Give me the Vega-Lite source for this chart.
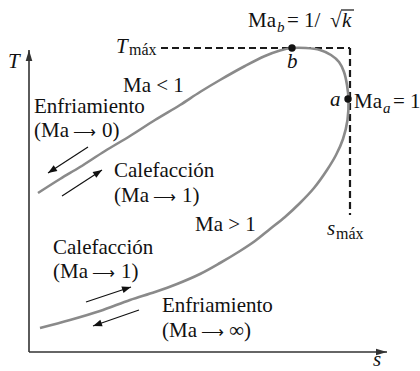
{
  "$schema": "https://vega.github.io/schema/vega-lite/v6.json",
  "width": 420,
  "height": 371,
  "autosize": "none",
  "padding": 0,
  "background": "white",
  "config": {"view": {"stroke": null}},
  "datasets": {
    "curve": [
      {"order": 1, "s": 38, "T": 178},
      {"order": 2, "s": 60, "T": 192},
      {"order": 3, "s": 80, "T": 204},
      {"order": 4, "s": 105, "T": 220},
      {"order": 5, "s": 130, "T": 235},
      {"order": 6, "s": 155, "T": 251},
      {"order": 7, "s": 180, "T": 266},
      {"order": 8, "s": 200, "T": 279},
      {"order": 9, "s": 220, "T": 291},
      {"order": 10, "s": 245, "T": 305},
      {"order": 11, "s": 265, "T": 315},
      {"order": 12, "s": 280, "T": 320.5},
      {"order": 13, "s": 292, "T": 323},
      {"order": 14, "s": 306, "T": 323},
      {"order": 15, "s": 320, "T": 321},
      {"order": 16, "s": 331, "T": 316},
      {"order": 17, "s": 339, "T": 309},
      {"order": 18, "s": 344, "T": 299},
      {"order": 19, "s": 347, "T": 286},
      {"order": 20, "s": 348.5, "T": 271},
      {"order": 21, "s": 347.5, "T": 251},
      {"order": 22, "s": 343, "T": 232},
      {"order": 23, "s": 336, "T": 216},
      {"order": 24, "s": 327, "T": 201},
      {"order": 25, "s": 314, "T": 183},
      {"order": 26, "s": 300, "T": 168},
      {"order": 27, "s": 285, "T": 154},
      {"order": 28, "s": 270, "T": 142},
      {"order": 29, "s": 255, "T": 130},
      {"order": 30, "s": 240, "T": 120},
      {"order": 31, "s": 220, "T": 108},
      {"order": 32, "s": 200, "T": 97},
      {"order": 33, "s": 177, "T": 87},
      {"order": 34, "s": 155, "T": 79},
      {"order": 35, "s": 130, "T": 71},
      {"order": 36, "s": 100, "T": 60},
      {"order": 37, "s": 70, "T": 51},
      {"order": 38, "s": 40, "T": 43}
    ],
    "guides": [
      {"s": 161, "T": 323, "s2": 350, "T2": 323},
      {"s": 350, "T": 323, "s2": 350, "T2": 156}
    ],
    "axes": [
      {"s": 29, "T": 19, "s2": 29, "T2": 321},
      {"s": 29, "T": 19, "s2": 387, "T2": 19}
    ],
    "flows": [
      {"s": 88, "T": 224, "s2": 48, "T2": 198},
      {"s": 62, "T": 175, "s2": 102, "T2": 201},
      {"s": 86, "T": 69, "s2": 131, "T2": 84},
      {"s": 139, "T": 61, "s2": 93, "T2": 45}
    ],
    "states": [
      {"name": "b", "s": 292, "T": 323},
      {"name": "a", "s": 348, "T": 272}
    ],
    "roman": [
      {"label": "Ma", "s": 248, "T": 344},
      {"label": "= 1/", "s": 287, "T": 344},
      {"label": "√", "s": 330, "T": 344},
      {"label": "Ma < 1", "s": 123, "T": 279},
      {"label": "Enfriamiento", "s": 34, "T": 258},
      {"label": "(Ma", "s": 34, "T": 234},
      {"label": "0)", "s": 102, "T": 234},
      {"label": "Calefacción", "s": 114, "T": 194},
      {"label": "(Ma", "s": 114, "T": 169},
      {"label": "1)", "s": 182, "T": 169},
      {"label": "Ma > 1", "s": 195, "T": 140},
      {"label": "Calefacción", "s": 53, "T": 117},
      {"label": "(Ma", "s": 53, "T": 93},
      {"label": "1)", "s": 121, "T": 93},
      {"label": "Enfriamiento", "s": 162, "T": 59},
      {"label": "(Ma", "s": 162, "T": 34},
      {"label": "∞)", "s": 229, "T": 34},
      {"label": "Ma", "s": 354, "T": 263},
      {"label": "= 1", "s": 393, "T": 263}
    ],
    "arrowsText": [
      {"label": "⟶", "s": 73, "T": 234},
      {"label": "⟶", "s": 153, "T": 169},
      {"label": "⟶", "s": 92, "T": 93},
      {"label": "⟶", "s": 201, "T": 34}
    ],
    "italic": [
      {"label": "T", "s": 8, "T": 303},
      {"label": "s", "s": 373, "T": 5},
      {"label": "T", "s": 116, "T": 318},
      {"label": "b", "s": 287, "T": 303},
      {"label": "a", "s": 330, "T": 265},
      {"label": "s", "s": 327, "T": 136},
      {"label": "k", "s": 342, "T": 344}
    ],
    "subRoman": [
      {"label": "máx", "s": 129, "T": 316},
      {"label": "máx", "s": 336, "T": 132}
    ],
    "subItalic": [
      {"label": "b", "s": 277, "T": 339},
      {"label": "a", "s": 383, "T": 258}
    ],
    "overline": [
      {"s": 341, "T": 361, "s2": 354, "T2": 361}
    ]
  },
  "layer": [
    {
      "data": {"name": "guides"},
      "mark": {"type": "rule", "color": "#1a1a1a", "strokeWidth": 2.2, "strokeDash": [7, 4]},
      "encoding": {
        "x": {"field": "s", "type": "quantitative", "scale": {"domain": [0, 420], "nice": false, "zero": false}, "axis": null},
        "y": {"field": "T", "type": "quantitative", "scale": {"domain": [0, 371], "nice": false, "zero": false}, "axis": null},
        "x2": {"field": "s2"},
        "y2": {"field": "T2"}
      }
    },
    {
      "data": {"name": "curve"},
      "mark": {"type": "line", "color": "#8a8a8a", "strokeWidth": 2.6, "interpolate": "catmull-rom"},
      "encoding": {
        "x": {"field": "s", "type": "quantitative"},
        "y": {"field": "T", "type": "quantitative"},
        "order": {"field": "order", "type": "quantitative"}
      }
    },
    {
      "data": {"name": "axes"},
      "mark": {"type": "rule", "color": "#333333", "strokeWidth": 1.6},
      "encoding": {
        "x": {"field": "s", "type": "quantitative"},
        "y": {"field": "T", "type": "quantitative"},
        "x2": {"field": "s2"},
        "y2": {"field": "T2"}
      }
    },
    {
      "data": {"name": "axes"},
      "transform": [{"calculate": "atan2(-(datum.T2 - datum.T), datum.s2 - datum.s) * 180 / PI", "as": "angle"}],
      "mark": {"type": "point", "shape": "M0,0L-1,-0.3L-1,0.3Z", "filled": true, "color": "#333333", "opacity": 1, "size": 484},
      "encoding": {
        "x": {"field": "s2", "type": "quantitative"},
        "y": {"field": "T2", "type": "quantitative"},
        "angle": {"field": "angle", "type": "quantitative", "scale": null}
      }
    },
    {
      "data": {"name": "flows"},
      "mark": {"type": "rule", "color": "#111111", "strokeWidth": 1.2},
      "encoding": {
        "x": {"field": "s", "type": "quantitative"},
        "y": {"field": "T", "type": "quantitative"},
        "x2": {"field": "s2"},
        "y2": {"field": "T2"}
      }
    },
    {
      "data": {"name": "flows"},
      "transform": [{"calculate": "atan2(-(datum.T2 - datum.T), datum.s2 - datum.s) * 180 / PI", "as": "angle"}],
      "mark": {"type": "point", "shape": "M0,0L-1,-0.38L-1,0.38Z", "filled": true, "color": "#111111", "opacity": 1, "size": 324},
      "encoding": {
        "x": {"field": "s2", "type": "quantitative"},
        "y": {"field": "T2", "type": "quantitative"},
        "angle": {"field": "angle", "type": "quantitative", "scale": null}
      }
    },
    {
      "data": {"name": "overline"},
      "mark": {"type": "rule", "color": "#111111", "strokeWidth": 1.2},
      "encoding": {
        "x": {"field": "s", "type": "quantitative"},
        "y": {"field": "T", "type": "quantitative"},
        "x2": {"field": "s2"},
        "y2": {"field": "T2"}
      }
    },
    {
      "data": {"name": "states"},
      "mark": {"type": "point", "shape": "circle", "filled": true, "color": "#111111", "opacity": 1, "size": 55},
      "encoding": {
        "x": {"field": "s", "type": "quantitative"},
        "y": {"field": "T", "type": "quantitative"}
      }
    },
    {
      "data": {"name": "roman"},
      "mark": {"type": "text", "font": "Liberation Serif", "fontSize": 21, "align": "left", "baseline": "alphabetic", "color": "#111111"},
      "encoding": {
        "x": {"field": "s", "type": "quantitative"},
        "y": {"field": "T", "type": "quantitative"},
        "text": {"field": "label"}
      }
    },
    {
      "data": {"name": "arrowsText"},
      "mark": {"type": "text", "font": "Liberation Serif", "fontSize": 16, "align": "left", "baseline": "alphabetic", "color": "#111111"},
      "encoding": {
        "x": {"field": "s", "type": "quantitative"},
        "y": {"field": "T", "type": "quantitative"},
        "text": {"field": "label"}
      }
    },
    {
      "data": {"name": "italic"},
      "mark": {"type": "text", "font": "Liberation Serif", "fontStyle": "italic", "fontSize": 21, "align": "left", "baseline": "alphabetic", "color": "#111111"},
      "encoding": {
        "x": {"field": "s", "type": "quantitative"},
        "y": {"field": "T", "type": "quantitative"},
        "text": {"field": "label"}
      }
    },
    {
      "data": {"name": "subRoman"},
      "mark": {"type": "text", "font": "Liberation Serif", "fontSize": 16, "align": "left", "baseline": "alphabetic", "color": "#111111"},
      "encoding": {
        "x": {"field": "s", "type": "quantitative"},
        "y": {"field": "T", "type": "quantitative"},
        "text": {"field": "label"}
      }
    },
    {
      "data": {"name": "subItalic"},
      "mark": {"type": "text", "font": "Liberation Serif", "fontStyle": "italic", "fontSize": 15, "align": "left", "baseline": "alphabetic", "color": "#111111"},
      "encoding": {
        "x": {"field": "s", "type": "quantitative"},
        "y": {"field": "T", "type": "quantitative"},
        "text": {"field": "label"}
      }
    }
  ]
}
